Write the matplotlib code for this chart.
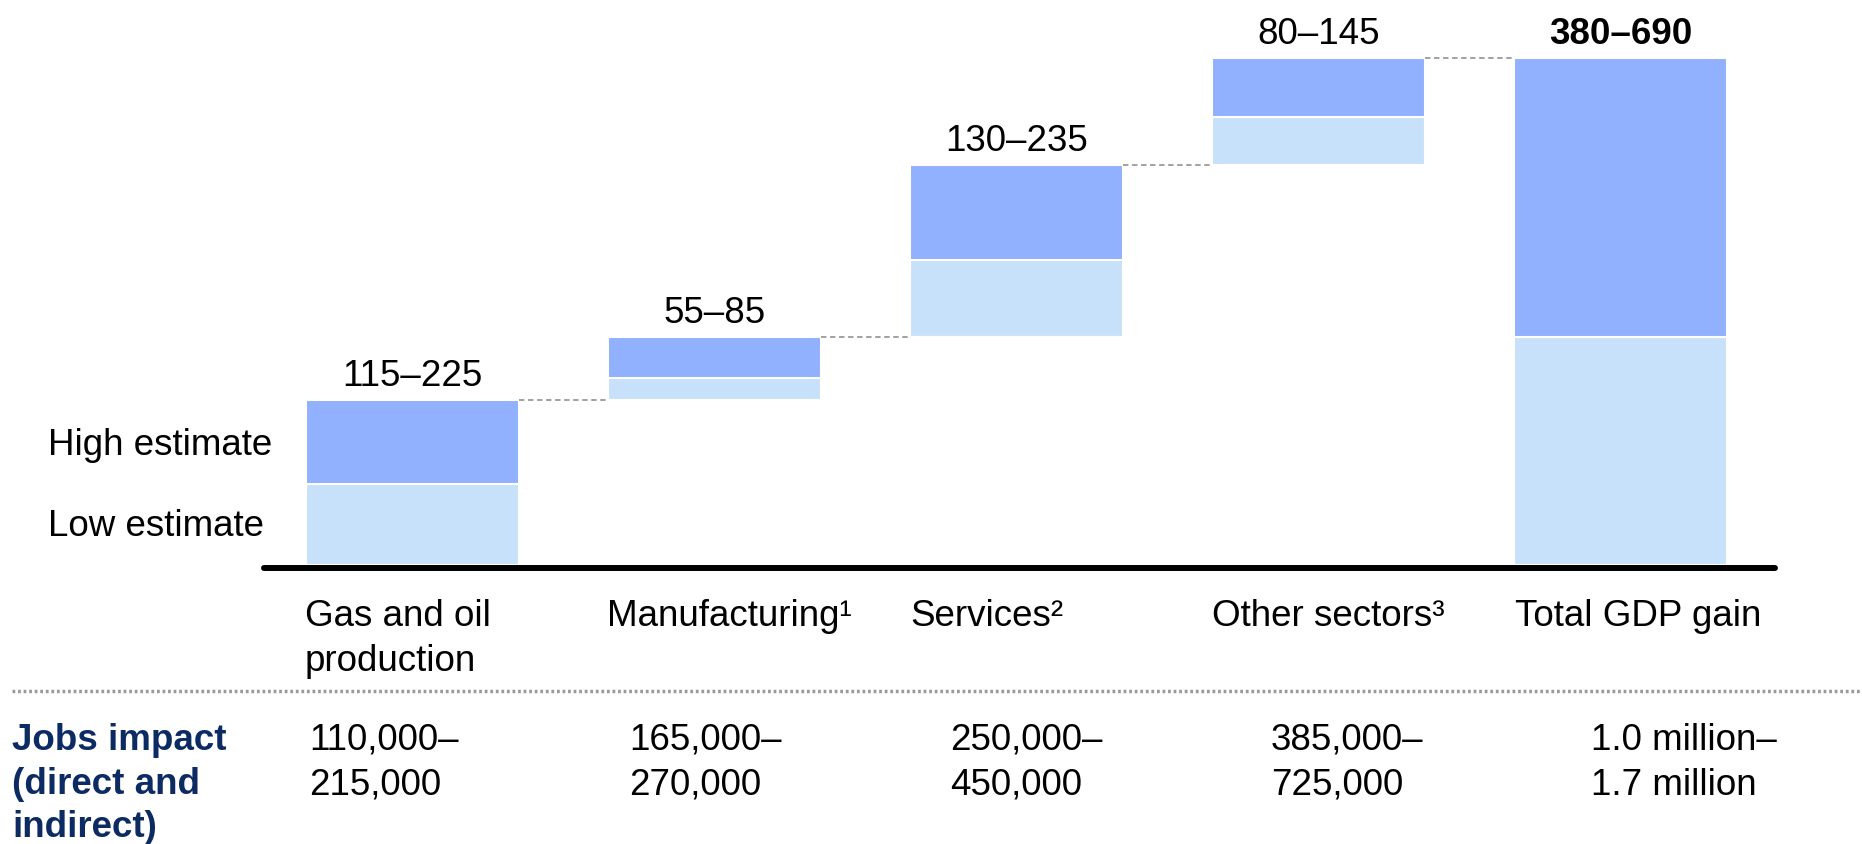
import matplotlib
matplotlib.use("Agg")
import matplotlib.pyplot as plt

plt.rcParams['font.family'] = ['Liberation Sans', 'DejaVu Sans']

# ---- data ----
categories = ["Gas and oil\nproduction", "Manufacturing¹", "Services²",
              "Other sectors³", "Total GDP gain"]
low = [115, 55, 130, 80, 380]
high = [225, 85, 235, 145, 690]
value_labels = ["115–225", "55–85", "130–235", "80–145", "380–690"]
jobs = ["110,000–\n215,000", "165,000–\n270,000", "250,000–\n450,000",
        "385,000–\n725,000", "1.0 million–\n1.7 million"]
legend_labels = ["High estimate", "Low estimate"]

DARK = "#91b0fd"
LIGHT = "#c8e1fa"
NAVY = "#0d2b63"
FS = 26.5

W, H = 1862, 844
fig = plt.figure(figsize=(W / 100, H / 100), dpi=100)

def fx(px):
    return px / W

def fy(py):
    return 1 - py / H

ax = fig.add_axes([fx(261), fy(565), fx(1778) - fx(261), 565 / H])
ax.set_xlim(-0.5, 4.52)
ax.set_ylim(0, 769)
ax.axis("off")

bw = 0.705
n = len(categories)
base = 0
bases = []
for i in range(n):
    b = 0 if i == n - 1 else base
    bases.append(b)
    diff = high[i] - low[i]
    ax.bar(i, diff, bw, bottom=b, color=LIGHT, edgecolor="white", linewidth=1.5)
    ax.bar(i, low[i], bw, bottom=b + diff, color=DARK, edgecolor="white", linewidth=1.5)
    top = b + high[i]
    ax.annotate(value_labels[i], (i, top), xytext=(0, 16.8), textcoords="offset points",
                ha="center", va="center", fontsize=FS,
                fontweight="bold" if i == n - 1 else "normal")
    if i < n - 1:
        base = top

# connectors
for i in range(n - 1):
    t = bases[i] + high[i]
    ax.plot([i + bw / 2, i + 1 - bw / 2], [t, t], color="#9a9a9a", lw=1.3,
            linestyle=(0, (3, 2)), clip_on=False)

# baseline
fig.add_artist(plt.Line2D([fx(264), fx(1775)], [fy(568), fy(568)], color="black",
                          lw=4.3, solid_capstyle="round", transform=fig.transFigure))

# legend labels
fig.text(fx(48), fy(446), legend_labels[0], fontsize=FS, ha="left", va="center")
fig.text(fx(48), fy(527), legend_labels[1], fontsize=FS, ha="left", va="center")

# category labels
left_px = [305, 607, 910, 1212, 1515]
for i, c in enumerate(categories):
    fig.text(fx(left_px[i]), fy(599), c, fontsize=FS, ha="left", va="top",
             linespacing=1.36)

# dotted separator
fig.add_artist(plt.Line2D([fx(12), fx(1862)], [fy(691), fy(691)], color="#9a9a9a",
                          lw=2.5, linestyle=(0, (0.8, 0.8)), transform=fig.transFigure))

fig.text(fx(12), fy(723), "Jobs impact\n(direct and\nindirect)", fontsize=FS,
         fontweight="bold", color=NAVY, ha="left", va="top", linespacing=1.32)

jobs_px = [309, 629, 950, 1271, 1591]
for i, j in enumerate(jobs):
    fig.text(fx(jobs_px[i]), fy(723), j, fontsize=FS, ha="left", va="top",
             linespacing=1.36)

fig.savefig("out.png", dpi=100)
